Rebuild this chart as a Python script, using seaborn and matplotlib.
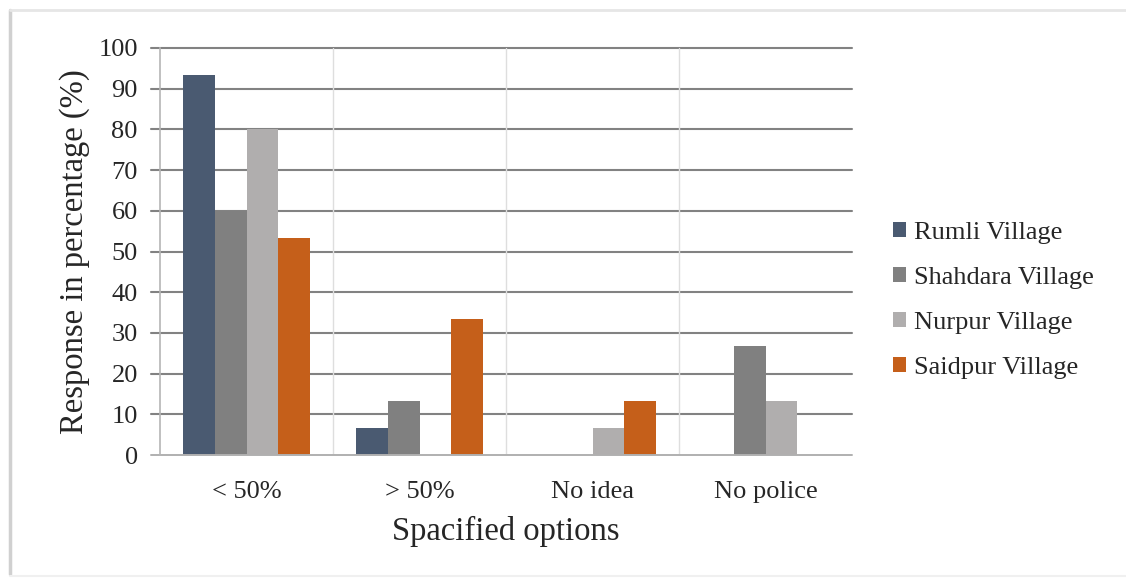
import matplotlib
matplotlib.use("Agg")
import matplotlib.pyplot as plt
import seaborn as sns
import pandas as pd
from matplotlib.lines import Line2D

categories = ["< 50%", "> 50%", "No idea", "No police"]
villages = ["Rumli Village", "Shahdara Village", "Nurpur Village", "Saidpur Village"]
rumli = [93.3, 6.7, 0.0, 0.0]
shahdara = [60.0, 13.3, 0.0, 26.7]
nurpur = [80.0, 0.0, 6.7, 13.3]
saidpur = [53.3, 33.3, 13.3, 0.0]
colors = ["#4a5a71", "#808080", "#b0aeae", "#c55f1a"]
yticks = [0, 10, 20, 30, 40, 50, 60, 70, 80, 90, 100]

rows = []
for v, vals in zip(villages, [rumli, shahdara, nurpur, saidpur]):
    for c, val in zip(categories, vals):
        rows.append({"Option": c, "Village": v, "Value": val})
df = pd.DataFrame(rows)

sns.set_theme(style="white")
plt.rcParams["font.family"] = ["Liberation Serif", "DejaVu Serif"]

fig = plt.figure(figsize=(11.26, 5.82), dpi=100)
fig.patch.set_facecolor("white")
ax = fig.add_axes([160 / 1126, 1 - 455 / 582, (852 - 160) / 1126, (455 - 48) / 582])

sns.barplot(data=df, x="Option", y="Value", hue="Village", order=categories,
            hue_order=villages, palette=colors, width=0.73, saturation=1,
            errorbar=None, ax=ax, zorder=3, linewidth=0)

ax.set_ylim(0, 100)
ax.set_xlim(-0.5, 3.5)
ax.set_yticks(yticks)
ax.set_yticklabels([str(t) for t in yticks])
for t in yticks[1:]:
    ax.axhline(t, color="#828282", lw=1.5, zorder=1, xmin=-0.013, clip_on=False)
for xb in [0.5, 1.5, 2.5]:
    ax.axvline(xb, color="#dedede", lw=1.0, zorder=1)
ax.axhline(0, color="#b0b0b0", lw=1.4, zorder=4, xmin=-0.013, clip_on=False)

for s in ["top", "right", "bottom"]:
    ax.spines[s].set_visible(False)
ax.spines["left"].set_color("#b5b5b5")
ax.spines["left"].set_linewidth(1.2)
ax.spines["left"].set_zorder(4)

ax.tick_params(axis="y", length=0, pad=16, labelsize=19, labelcolor="#262626")
ax.tick_params(axis="x", length=0, pad=19, labelsize=19, labelcolor="#262626")

ax.set_xlabel("Spacified options", fontsize=23.5, color="#262626", labelpad=9)
ax.set_ylabel("Response in percentage (%)", fontsize=23.5, color="#262626", labelpad=6)

leg = ax.legend(loc="center left", bbox_to_anchor=(0.793, 0.484),
                bbox_transform=fig.transFigure, frameon=False, fontsize=19,
                handlelength=0.5, handleheight=0.5, handletextpad=0.3,
                labelspacing=0.87, borderpad=0, borderaxespad=0)
for txt in leg.get_texts():
    txt.set_color("#262626")

# faint page frame/shadow (left and top darker, as in the reference)
fig.add_artist(Line2D([10 / 1126, 10 / 1126], [8 / 582, 1 - 10 / 582],
                      transform=fig.transFigure, color="#d0d0d0", lw=2.5))
fig.add_artist(Line2D([10 / 1126, 1], [1 - 10 / 582, 1 - 10 / 582],
                      transform=fig.transFigure, color="#e6e6e6", lw=2.0))
fig.add_artist(Line2D([10 / 1126, 1], [6 / 582, 6 / 582],
                      transform=fig.transFigure, color="#f0f0f0", lw=1.5))

fig.savefig("out.png", dpi=100, facecolor="white")
